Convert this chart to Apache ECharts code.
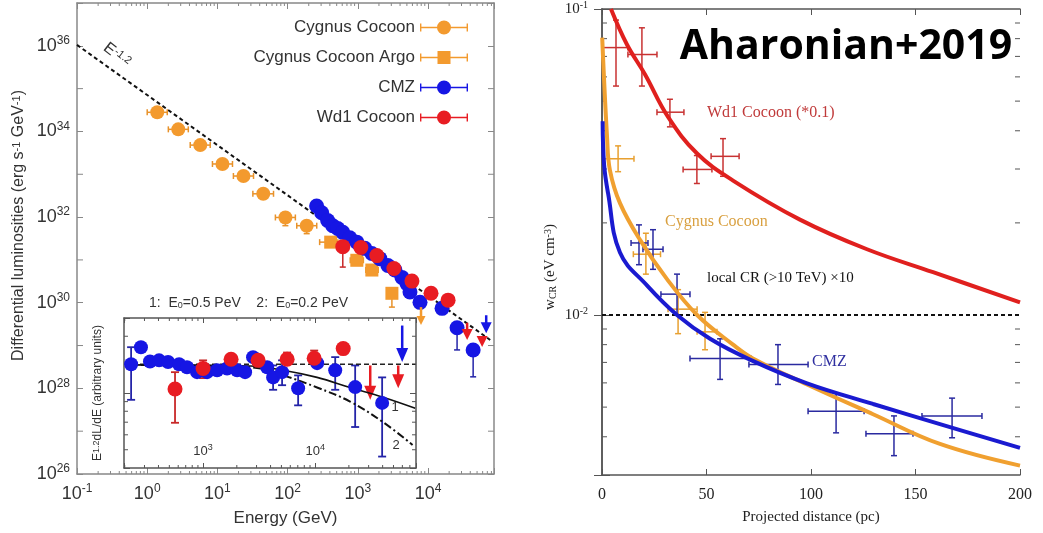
<!DOCTYPE html>
<html>
<head>
<meta charset="utf-8">
<script src="https://cdn.jsdelivr.net/npm/echarts@6/dist/echarts.min.js"></script>
<style>
  html, body { margin: 0; padding: 0; background: #fff; }
  #main { width: 1043px; height: 533px; }
</style>
</head>
<body>
<div id="main"></div>
<script>
// ---- left panel: E (GeV), L (erg/s/GeV), Elo, Ehi, Llo, Lhi ----
var cygnusCocoon = [
  [1.39, 2.8e34, 1.0, 1.93, null, null],
  [2.77, 1.12e34, 2.0, 3.85, null, null],
  [5.7, 4.8e33, 4.1, 7.9, null, null],
  [11.8, 1.74e33, 8.5, 16.4, null, null],
  [23.5, 9.1e32, 16.9, 32.7, null, null],
  [45, 3.5e32, 32, 63, null, null],
  [93, 9.8e31, 67, 129, 6.3e31, null],
  [187, 6.3e31, 135, 260, 4.1e31, null]
];
var cygnusArgo = [
  [411, 2.6e31, 286, 520, null, null],
  [968, 9.8e30, 780, 1200, null, null],
  [1585, 5.8e30, 1300, 1950, null, null],
  [3060, 1.66e30, 2600, 3600, 7.9e29, null]
];
var cmz = [
  [259, 1.82e32], [306, 1.26e32], [372, 8.3e31], [440, 6.3e31], [518, 5.4e31],
  [611, 4.4e31], [769, 3.3e31], [968, 2.6e31], [1259, 1.86e31], [1585, 1.41e31],
  [2061, 1.07e31], [2685, 7.4e30], [3381, 5.8e30], [4256, 3.9e30], [5012, 2.8e30],
  [5534, 1.78e30], [7690, 1.02e30], [15850, 7.4e29],
  [25940, 2.6e29, null, null, 7.9e28, null],
  [43950, 7.9e28, null, null, 1.86e28, null]
];
var wd1 = [
  [611, 2.04e31, null, null, 6.8e30, null],
  [1104, 1.95e31], [1866, 1.26e31], [3266, 6.3e30], [5902, 3.2e30],
  [11040, 1.66e30], [19320, 1.15e30]
];
// upper limits: E, top, arrow tip
var cygnusLimits = [[7950, 7.9e29, 3.0e29]];
var cmzLimits = [[67450, 5.1e29, 1.95e29]];
var wd1Limits = [[36060, 3.4e29, 1.35e29], [59020, 1.58e29, 9.3e28]];
var powerLaw = [[0.1, 1.05e36], [76900, 1.35e29]];
var lumOddDecades = [1e27, 1e29, 1e31, 1e33, 1e35];

// ---- inset: E, E^1.2 dL/dE (arb.), -, -, lo, hi ----
var cmzInset = [
  [228, 1.42, null, null, 0.92, 1.75], [279, 1.75], [336, 1.47], [405, 1.49], [487, 1.46],
  [611, 1.42], [719, 1.37], [884, 1.29], [1086, 1.29], [1334, 1.32], [1637, 1.35],
  [2013, 1.32], [2371, 1.29], [2793, 1.55], [3727, 1.37],
  [4217, 1.21, null, null, 1.04, 1.40], [5070, 1.29, null, null, 1.10, 1.49],
  [7050, 1.06, null, null, 0.86, 1.24], [10420, 1.44],
  [15100, 1.32, null, null, 1.04, 1.55], [22750, 1.075, null, null, 0.66, 1.40],
  [39600, 0.886, null, null, 0.46, 1.21]
];
var wd1Inset = [
  [562, 1.05, null, null, 0.695, 1.29], [1000, 1.35, null, null, 1.20, 1.49],
  [1778, 1.51], [3097, 1.49], [5623, 1.51, null, null, null, 1.64],
  [9800, 1.53, null, null, null, 1.68], [17800, 1.72]
];
var cmzInsetLimits = [[59800, 2.28, 1.46]];
var wd1InsetLimits = [[31000, 1.40, 0.92], [55100, 1.40, 1.06]];
var insetFlat = [[197, 1.42], [79400, 1.42]];
var cutoff05 = [[201, 1.41], [2630, 1.39], [5180, 1.32], [10400, 1.21], [20500, 1.07], [40400, 0.95], [78200, 0.83]];
var cutoff02 = [[201, 1.41], [2630, 1.37], [5180, 1.24], [10400, 1.07], [20500, 0.90], [40400, 0.70], [74000, 0.53]];

// ---- right panel: distance (pc), w_CR (eV cm^-3) ----
var wd1Curve = [[4.3, 0.1], [12, 0.0764], [20.6, 0.0611], [31.6, 0.0444], [45.5, 0.0337], [62.7, 0.0275],
  [94.7, 0.0205], [126.8, 0.0164], [158.4, 0.0138], [200, 0.011]];
var cygnusCurve = [[0.1, 0.0806], [2.4, 0.0383], [3.8, 0.0297], [8.6, 0.0232], [18.2, 0.0176], [31.1, 0.0131],
  [45.5, 0.01], [62.7, 0.008], [72.2, 0.00721], [98.1, 0.00593], [129.7, 0.00474], [161.7, 0.00379], [200, 0.00322]];
var cmzCurve = [[0.3, 0.043], [1, 0.031], [2.9, 0.025], [8.6, 0.016], [21.5, 0.0125], [35.9, 0.01],
  [51.7, 0.00836], [70.8, 0.00715], [98.1, 0.00598], [129.7, 0.00512], [161.7, 0.0044], [200, 0.00368]];
var localCR = [[0, 0.01], [200, 0.01]];
// x, y, xlo, xhi, ylo, yhi
var wd1Cross = [
  [6.7, 0.0748, 0, 12.4, 0.056, 0.092],
  [19.1, 0.071, 12.4, 26.3, 0.056, 0.0868],
  [32.5, 0.046, 26.3, 39.2, 0.0412, 0.0507],
  [45.4, 0.0299, 38.8, 52.6, 0.0269, 0.0332],
  [57.9, 0.033, 52.2, 65.6, 0.0284, 0.0377]
];
var cygnusCross = [
  [7.7, 0.0324, 0.5, 15.3, 0.0294, 0.0357],
  [21, 0.0158, 15, 28, 0.0136, 0.0185],
  [36.4, 0.01045, 31.6, 45.5, 0.00869, 0.0121],
  [49.3, 0.00881, 45.5, 55, 0.0077, 0.0102]
];
var cmzCross = [
  [17.7, 0.0172, 13.9, 22.0, 0.0146, 0.0197],
  [24.4, 0.0164, 19.6, 29.2, 0.0141, 0.019],
  [35.9, 0.0117, 28.2, 42.1, 0.01, 0.0136],
  [56.5, 0.00721, 42.1, 71.3, 0.00616, 0.00836],
  [84.2, 0.00689, 70.3, 98.6, 0.00593, 0.008],
  [112.0, 0.00485, 98.6, 125.4, 0.00412, 0.00555],
  [139.7, 0.00409, 126.3, 148.8, 0.00347, 0.00468],
  [167.5, 0.00468, 153.1, 181.8, 0.00397, 0.00535]
];

var SANS = 'Liberation Sans, Arial, sans-serif';
var SERIF = 'Liberation Serif, Times New Roman, serif';
var ORANGE = '#f39a2e', BLUE = '#1616e4', RED = '#e81c22';

function errBars(rows, color, xi, yi, cap, lw) {
  return {
    type: 'custom', xAxisIndex: xi, yAxisIndex: yi, silent: true, z: 2,
    data: rows.map(function (r) { return [r[0], r[1]]; }),
    renderItem: function (params, api) {
      var r = rows[params.dataIndex];
      var p = api.coord([r[0], r[1]]);
      var segs = [];
      if (r[2] != null) {
        var a = api.coord([r[2], r[1]]), b = api.coord([r[3], r[1]]);
        segs.push([a[0], p[1], b[0], p[1]]);
        segs.push([a[0], p[1] - cap, a[0], p[1] + cap]);
        segs.push([b[0], p[1] - cap, b[0], p[1] + cap]);
      }
      if (r[4] != null || r[5] != null) {
        var lo = api.coord([r[0], r[4] != null ? r[4] : r[1]]);
        var hi = api.coord([r[0], r[5] != null ? r[5] : r[1]]);
        segs.push([p[0], lo[1], p[0], hi[1]]);
        if (r[4] != null) segs.push([p[0] - cap, lo[1], p[0] + cap, lo[1]]);
        if (r[5] != null) segs.push([p[0] - cap, hi[1], p[0] + cap, hi[1]]);
      }
      return {
        type: 'group',
        children: segs.map(function (s) {
          return { type: 'line', shape: { x1: s[0], y1: s[1], x2: s[2], y2: s[3] }, style: { stroke: color, lineWidth: lw } };
        })
      };
    }
  };
}

function limitArrows(rows, color, xi, yi, w, h) {
  return {
    type: 'custom', xAxisIndex: xi, yAxisIndex: yi, silent: true, z: 4,
    data: rows.map(function (r) { return [r[0], r[1]]; }),
    renderItem: function (params, api) {
      var r = rows[params.dataIndex];
      var top = api.coord([r[0], r[1]]), tip = api.coord([r[0], r[2]]);
      return {
        type: 'group',
        children: [
          { type: 'line', shape: { x1: top[0], y1: top[1], x2: tip[0], y2: tip[1] - h * 0.5 }, style: { stroke: color, lineWidth: 2.5 } },
          { type: 'polygon', shape: { points: [[tip[0] - w / 2, tip[1] - h], [tip[0] + w / 2, tip[1] - h], [tip[0], tip[1]]] }, style: { fill: color } }
        ]
      };
    }
  };
}

// extra (minor) tick marks on both sides of a grid, placed through the axis scales
function tickMarks(values, dir, xi, yi, range, len, color) {
  return {
    type: 'custom', xAxisIndex: xi, yAxisIndex: yi, silent: true, z: 1,
    data: values.map(function (v) { return dir === 'y' ? [range[0], v] : [v, range[0]]; }),
    renderItem: function (params, api) {
      var v = values[params.dataIndex];
      var a = dir === 'y' ? api.coord([range[0], v]) : api.coord([v, range[0]]);
      var b = dir === 'y' ? api.coord([range[1], v]) : api.coord([v, range[1]]);
      var segs = dir === 'y'
        ? [[a[0], a[1], a[0] + len, a[1]], [b[0], b[1], b[0] - len, b[1]]]
        : [[a[0], a[1], a[0], a[1] - len], [b[0], b[1], b[0], b[1] + len]];
      return {
        type: 'group',
        children: segs.map(function (s) {
          return { type: 'line', shape: { x1: s[0], y1: s[1], x2: s[2], y2: s[3] }, style: { stroke: color, lineWidth: 1 } };
        })
      };
    }
  };
}

function logMinor(fromExp, toExp, lo, hi) {
  var out = [];
  for (var e = fromExp; e <= toExp; e++) {
    for (var k = 2; k <= 9; k++) {
      var v = k * Math.pow(10, e);
      if (v > lo && v < hi) out.push(v);
    }
  }
  return out;
}

function xy(rows) {
  return rows.map(function (r) { return [r[0], r[1]]; });
}

function isPow10(v) {
  var e = Math.log10(v);
  return Math.abs(e - Math.round(e)) < 1e-6;
}
function powLabel(v) {
  return isPow10(v) ? '{b|10}{s|' + Math.round(Math.log10(v)) + '}' : '';
}

var supSans = {
  b: { fontSize: 18, fontFamily: SANS, color: '#333', lineHeight: 22 },
  s: { fontSize: 12, fontFamily: SANS, color: '#333', verticalAlign: 'top', lineHeight: 12 }
};
var supSerif = {
  b: { fontSize: 15, fontFamily: SERIF, color: '#222', lineHeight: 18 },
  s: { fontSize: 10, fontFamily: SERIF, color: '#222', verticalAlign: 'top', lineHeight: 10 }
};

var frameLeft = { show: true, lineStyle: { color: '#888', width: 1.5 } };
var frameRight = { show: true, lineStyle: { color: '#555', width: 1.5 } };
var frameInset = { show: true, lineStyle: { color: '#555', width: 1.5 } };
var tickIn = function (len, color) { return { show: true, inside: true, length: len, lineStyle: { color: color } }; };

var iconCircle = 'path://M0,6.3L48,6.3L48,7.7L0,7.7Z M0,3L1.4,3L1.4,11L0,11Z M46.6,3L48,3L48,11L46.6,11Z M17,7A7,7,0,1,1,31,7A7,7,0,1,1,17,7Z';
var iconSquare = 'path://M0,6.3L48,6.3L48,7.7L0,7.7Z M0,3L1.4,3L1.4,11L0,11Z M46.6,3L48,3L48,11L46.6,11Z M17.5,0.5L30.5,0.5L30.5,13.5L17.5,13.5Z';

var chart = echarts.init(document.getElementById('main'));
chart.setOption({
  animation: false,
  backgroundColor: '#fff',
  grid: [
    { left: 77, top: 3, width: 417, height: 471 },
    { left: 124, top: 318, width: 292, height: 150 },
    { left: 602, top: 4, width: 418, height: 471 }
  ],
  legend: {
    orient: 'vertical', align: 'right', right: 570, top: 14,
    itemWidth: 48, itemHeight: 14, itemGap: 13, selectedMode: false,
    textStyle: { fontSize: 17, fontFamily: SANS, color: '#333' },
    data: [
      { name: 'Cygnus Cocoon', icon: iconCircle },
      { name: 'Cygnus Cocoon Argo', icon: iconSquare },
      { name: 'CMZ', icon: iconCircle },
      { name: 'Wd1 Cocoon', icon: iconCircle }
    ]
  },
  xAxis: [
    {
      type: 'log', gridIndex: 0, min: 0.1, max: 87100, splitNumber: 6, position: 'bottom',
      axisLine: frameLeft, axisTick: tickIn(6, '#888'), splitLine: { show: false },
      axisLabel: { margin: 9, formatter: powLabel, rich: supSans },
      name: 'Energy (GeV)', nameLocation: 'middle', nameGap: 36,
      nameTextStyle: { fontSize: 17, fontFamily: SANS, color: '#333' }
    },
    {
      type: 'log', gridIndex: 0, min: 0.1, max: 87100, splitNumber: 6, position: 'top',
      axisLine: frameLeft, axisTick: tickIn(6, '#888'), splitLine: { show: false }, axisLabel: { show: false }
    },
    {
      type: 'log', gridIndex: 1, min: 197, max: 79400, splitNumber: 3, position: 'bottom', z: 5,
      axisLine: frameInset, axisTick: tickIn(5, '#555'), splitLine: { show: false },
      axisLabel: { inside: true, margin: 9, formatter: powLabel, rich: {
        b: { fontSize: 13, fontFamily: SANS, color: '#333', lineHeight: 16 },
        s: { fontSize: 9, fontFamily: SANS, color: '#333', verticalAlign: 'top', lineHeight: 9 }
      } }
    },
    {
      type: 'log', gridIndex: 1, min: 197, max: 79400, splitNumber: 3, position: 'top', z: 5,
      axisLine: frameInset, axisTick: tickIn(5, '#555'), splitLine: { show: false }, axisLabel: { show: false }
    },
    {
      type: 'value', gridIndex: 2, min: 0, max: 200, interval: 50, position: 'bottom',
      axisLine: frameRight, axisTick: tickIn(6, '#555'), splitLine: { show: false },
      axisLabel: { margin: 12, fontSize: 16, fontFamily: SERIF, color: '#222' },
      name: 'Projected distance (pc)', nameLocation: 'middle', nameGap: 35,
      nameTextStyle: { fontSize: 15, fontFamily: SERIF, color: '#222' }
    },
    {
      type: 'value', gridIndex: 2, min: 0, max: 200, interval: 50, position: 'top',
      axisLine: frameRight, axisTick: tickIn(6, '#555'), splitLine: { show: false }, axisLabel: { show: false }
    }
  ],
  yAxis: [
    {
      // base 100 gives one labelled tick per two decades, as in the figure
      type: 'log', logBase: 100, gridIndex: 0, min: 1e26, max: 1e37, splitNumber: 11, position: 'left',
      axisLine: frameLeft, axisTick: tickIn(6, '#888'), splitLine: { show: false },
      axisLabel: {
        margin: 7, rich: supSans,
        formatter: function (v) { return isPow10(v) && Math.round(Math.log10(v)) % 2 === 0 ? powLabel(v) : ''; }
      },
      name: 'Differential luminosities (erg s{s|-1} GeV{s|-1})', nameLocation: 'middle', nameGap: 50,
      nameTextStyle: { fontSize: 16, fontFamily: SANS, color: '#333', padding: [0, 0, 0, 26], rich: {
        s: { fontSize: 11, fontFamily: SANS, color: '#333', verticalAlign: 'top', lineHeight: 11 }
      } }
    },
    {
      type: 'log', logBase: 100, gridIndex: 0, min: 1e26, max: 1e37, splitNumber: 11, position: 'right',
      axisLine: frameLeft, axisTick: tickIn(6, '#888'), splitLine: { show: false }, axisLabel: { show: false }
    },
    {
      type: 'log', gridIndex: 1, min: 0.4, max: 2.5, position: 'left', z: 5,
      axisLine: frameInset, axisTick: tickIn(6, '#555'), splitLine: { show: false },
      axisLabel: { show: false },
      name: 'E{s|1.2}dL/dE (arbitrary units)', nameLocation: 'middle', nameGap: 20,
      nameTextStyle: { fontSize: 12, fontFamily: SANS, color: '#333', rich: {
        s: { fontSize: 9, fontFamily: SANS, color: '#333', verticalAlign: 'top', lineHeight: 9 }
      } }
    },
    {
      type: 'log', gridIndex: 1, min: 0.4, max: 2.5, position: 'right', z: 5,
      axisLine: frameInset, axisTick: tickIn(6, '#555'), splitLine: { show: false }, axisLabel: { show: false }
    },
    {
      type: 'log', gridIndex: 2, min: 0.003, max: 0.1, position: 'left',
      axisLine: frameRight, axisTick: tickIn(8, '#555'), splitLine: { show: false },
      axisLabel: { margin: 14, formatter: powLabel, rich: supSerif },
      name: 'w{sub|CR} (eV cm{s|-3})', nameLocation: 'middle', nameGap: 44,
      nameTextStyle: { fontSize: 15, fontFamily: SERIF, color: '#222', padding: [0, 50, 0, 0], rich: {
        sub: { fontSize: 10, fontFamily: SERIF, color: '#222', verticalAlign: 'bottom', lineHeight: 10 },
        s: { fontSize: 10, fontFamily: SERIF, color: '#222', verticalAlign: 'top', lineHeight: 10 }
      } }
    },
    {
      type: 'log', gridIndex: 2, min: 0.003, max: 0.1, position: 'right',
      axisLine: frameRight, axisTick: tickIn(8, '#555'), splitLine: { show: false }, axisLabel: { show: false }
    }
  ],
  series: [
    // left panel
    tickMarks(lumOddDecades, 'y', 0, 0, [0.1, 87100], 6, '#888'),
    tickMarks(logMinor(-1, 4, 0.1, 87100), 'x', 0, 0, [1e26, 1e37], 3, '#888'),
    { type: 'line', name: 'E-1.2', xAxisIndex: 0, yAxisIndex: 0, data: powerLaw, showSymbol: false, silent: true, z: 1,
      lineStyle: { color: '#111', width: 2, type: [4, 3] } },
    errBars(cygnusCocoon, '#e8922a', 0, 0, 3, 1.5),
    errBars(cygnusArgo, '#e8922a', 0, 0, 3, 1.5),
    errBars(cmz, '#2424a8', 0, 0, 3, 1.5),
    errBars(wd1, '#c82828', 0, 0, 3, 1.5),
    { type: 'scatter', name: 'Cygnus Cocoon', xAxisIndex: 0, yAxisIndex: 0, data: xy(cygnusCocoon),
      symbol: 'circle', symbolSize: 14, itemStyle: { color: ORANGE, opacity: 1 }, z: 3 },
    { type: 'scatter', name: 'Cygnus Cocoon Argo', xAxisIndex: 0, yAxisIndex: 0, data: xy(cygnusArgo),
      symbol: 'rect', symbolSize: 13, itemStyle: { color: ORANGE, opacity: 1 }, z: 3 },
    { type: 'scatter', name: 'CMZ', xAxisIndex: 0, yAxisIndex: 0, data: xy(cmz),
      symbol: 'circle', symbolSize: 15, itemStyle: { color: BLUE, opacity: 1 }, z: 3 },
    { type: 'scatter', name: 'Wd1 Cocoon', xAxisIndex: 0, yAxisIndex: 0, data: xy(wd1),
      symbol: 'circle', symbolSize: 15, itemStyle: { color: RED, opacity: 1 }, z: 4 },
    limitArrows(cygnusLimits, ORANGE, 0, 0, 9, 9),
    limitArrows(cmzLimits, BLUE, 0, 0, 11, 11),
    limitArrows(wd1Limits, RED, 0, 0, 11, 11),

    // inset
    tickMarks(logMinor(2, 4, 197, 79400), 'x', 2, 2, [0.4, 2.5], 3, '#555'),
    tickMarks(logMinor(-1, 0, 0.4, 2.5), 'y', 2, 2, [197, 79400], 4, '#555'),
    { type: 'line', xAxisIndex: 2, yAxisIndex: 2, data: insetFlat, showSymbol: false, silent: true, z: 4,
      lineStyle: { color: '#222', width: 1.5, type: [5, 3] } },
    { type: 'line', xAxisIndex: 2, yAxisIndex: 2, data: cutoff05, smooth: 0.4, showSymbol: false, silent: true, z: 4,
      lineStyle: { color: '#111', width: 1.6 } },
    { type: 'line', xAxisIndex: 2, yAxisIndex: 2, data: cutoff02, smooth: 0.4, showSymbol: false, silent: true, z: 4,
      lineStyle: { color: '#111', width: 2, type: [8, 3, 2, 3] } },
    errBars(cmzInset, '#2424a8', 2, 2, 4, 1.8),
    errBars(wd1Inset, '#c82828', 2, 2, 4, 1.8),
    { type: 'scatter', name: 'CMZ inset', xAxisIndex: 2, yAxisIndex: 2, data: xy(cmzInset),
      symbol: 'circle', symbolSize: 14, itemStyle: { color: BLUE, opacity: 1 }, z: 5 },
    { type: 'scatter', name: 'Wd1 inset', xAxisIndex: 2, yAxisIndex: 2, data: xy(wd1Inset),
      symbol: 'circle', symbolSize: 15, itemStyle: { color: RED, opacity: 1 }, z: 6 },
    limitArrows(cmzInsetLimits, BLUE, 2, 2, 12, 14),
    limitArrows(wd1InsetLimits, RED, 2, 2, 12, 14),

    // right panel
    tickMarks(logMinor(-3, -2, 0.003, 0.1), 'y', 4, 4, [0, 200], 5, '#555'),
    { type: 'line', xAxisIndex: 4, yAxisIndex: 4, data: localCR, showSymbol: false, silent: true,
      lineStyle: { color: '#111', width: 2, type: [4, 3] } },
    { type: 'line', xAxisIndex: 4, yAxisIndex: 4, data: wd1Curve, smooth: 0.4, showSymbol: false, silent: true,
      lineStyle: { color: '#e0201e', width: 4 } },
    { type: 'line', xAxisIndex: 4, yAxisIndex: 4, data: cygnusCurve, smooth: 0.4, showSymbol: false, silent: true,
      lineStyle: { color: '#f0a030', width: 4 } },
    { type: 'line', xAxisIndex: 4, yAxisIndex: 4, data: cmzCurve, smooth: 0.4, showSymbol: false, silent: true,
      lineStyle: { color: '#1a1ad0', width: 4 } },
    errBars(wd1Cross, '#c83232', 4, 4, 3, 1.5),
    errBars(cygnusCross, '#e8a030', 4, 4, 3, 1.5),
    errBars(cmzCross, '#2a2aa0', 4, 4, 3, 1.5)
  ],
  graphic: [
    { type: 'text', x: 117, y: 55, rotation: -0.66, silent: true,
      style: { text: 'E{s|-1.2}', align: 'center', verticalAlign: 'middle', fill: '#333',
        font: '16px ' + SANS, rich: { s: { fontSize: 11, fontFamily: SANS, verticalAlign: 'top', lineHeight: 11, fill: '#333' } } } },
    { type: 'text', left: 149, top: 296, silent: true, z: 10,
      style: { text: '1:  E{sub|0}=0.5 PeV    2:  E{sub|0}=0.2 PeV', fill: '#333', font: '14px ' + SANS,
        rich: { sub: { fontSize: 9, fontFamily: SANS, verticalAlign: 'bottom', lineHeight: 9, fill: '#333' } } } },
    { type: 'text', x: 395, y: 407, z: 10, silent: true, style: { text: '1', fill: '#333', font: '13px ' + SANS, align: 'center', verticalAlign: 'middle' } },
    { type: 'text', x: 396, y: 445, z: 10, silent: true, style: { text: '2', fill: '#333', font: '13px ' + SANS, align: 'center', verticalAlign: 'middle' } },
    { type: 'text', x: 707, y: 113, silent: true, style: { text: 'Wd1 Cocoon (*0.1)', fill: '#c03a3a', font: '16px ' + SERIF, verticalAlign: 'middle' } },
    { type: 'text', x: 665, y: 222, silent: true, style: { text: 'Cygnus Cocoon', fill: '#d9a040', font: '16px ' + SERIF, verticalAlign: 'middle' } },
    { type: 'text', x: 707, y: 278, silent: true, style: { text: 'local CR (>10 TeV) \u00d710', fill: '#111', font: '15px ' + SERIF, verticalAlign: 'middle' } },
    { type: 'text', x: 812, y: 362, silent: true, style: { text: 'CMZ', fill: '#3030a0', font: '16px ' + SERIF, verticalAlign: 'middle' } },
    { type: 'text', x: 846, y: 47, silent: true, z: 10,
      style: { text: 'Aharonian+2019', fill: '#000', font: 'bold 41px Open Sans', align: 'center', verticalAlign: 'middle' } }
  ]
});
</script>
</body>
</html>
